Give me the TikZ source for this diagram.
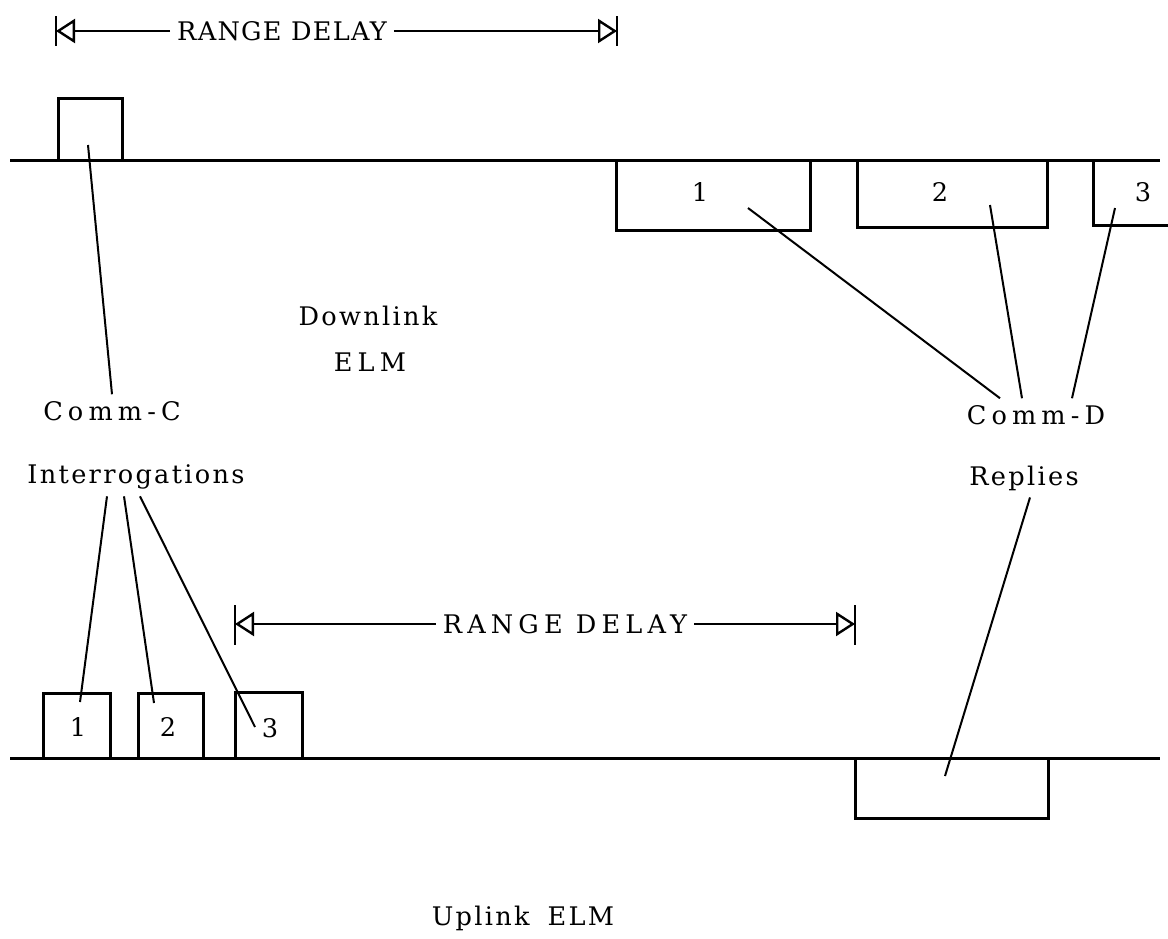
\documentclass[tikz,border=0pt]{standalone}
\usepackage{fontspec}
\usetikzlibrary{arrows.meta}
\newfontfamily\dvtight{DejaVu Serif}[LetterSpace=5]
\newfontfamily\dvsp{DejaVu Serif}[LetterSpace=9]
\newfontfamily\dvwide{DejaVu Serif}[LetterSpace=20]
\tikzset{
  dim/.style={-{Triangle[open,length=9.5pt,width=12pt]},line width=1.2pt},
  bar/.style={line width=1.4pt},
  pulse/.style={line width=1.5pt},
  lead/.style={line width=1pt},
  num/.style={font={\dvtight\fontsize{12.8}{15}\selectfont}},
  lbl/.style={font={\dvsp\fontsize{12.8}{15}\selectfont}},
  wide/.style={font={\dvwide\fontsize{12.8}{15}\selectfont}}
}
\begin{document}
\begin{tikzpicture}[x=0.5pt,y=-0.5pt]
\useasboundingbox (0,0) rectangle (1168,938);
\draw[pulse] (10,160) -- (1160,160);
\draw[pulse] (10,758) -- (1160,758);
\draw[pulse] (58,160) -- (58,98) -- (122,98) -- (122,160);
\draw[pulse] (616,160) -- (616,230) -- (810,230) -- (810,160);
\draw[pulse] (857,160) -- (857,227) -- (1047,227) -- (1047,160);
\draw[pulse] (1093,160) -- (1093,225) -- (1168,225);
\draw[pulse] (43,758) -- (43,693) -- (110,693) -- (110,758);
\draw[pulse] (138,758) -- (138,693) -- (203,693) -- (203,758);
\draw[pulse] (235,758) -- (235,692) -- (302,692) -- (302,758);
\draw[pulse] (855,758) -- (855,818) -- (1048,818) -- (1048,758);
\node[num] (n1) at (700,192) {1};
\node[num] (n2) at (940,192) {2};
\node[num] (n3) at (1143,192) {3};
\node[num] (m1) at (78,727) {1};
\node[num] (m2) at (168,727) {2};
\node[num] (m3) at (270,728) {3};
\node[num] (rd1) at (282,31) {RANGE DELAY};
\draw[bar] (56,16) -- (56,46);
\draw[bar] (617,16) -- (617,46);
\coordinate (bl1) at (56,31); \coordinate (br1) at (617,31);
\draw[dim] (rd1.west) -- (bl1);
\draw[dim] (rd1.east) -- (br1);
\node[wide] (rd2) at (565,624) {RANGE DELAY};
\draw[bar] (235,605) -- (235,645);
\draw[bar] (855,605) -- (855,645);
\coordinate (bl2) at (235,624); \coordinate (br2) at (855,624);
\draw[dim] (rd2.west) -- (bl2);
\draw[dim] (rd2.east) -- (br2);
\node[lbl] (down) at (368,316) {Downlink};
\node[wide] (delm) at (370,362) {ELM};
\node[wide] (commc) at (112,411) {Comm-C};
\node[lbl] (inter) at (136,477) {Interrogations};
\node[wide] (commd) at (1036,415) {Comm-D};
\node[lbl] (repl) at (1024,478) {Replies};
\node[lbl] (up) at (523,918) {Uplink\hspace{9pt}ELM};
\coordinate (t0) at (88,145);
\coordinate (d1) at (748,208); \coordinate (d2) at (990,205); \coordinate (d3) at (1115,208);
\coordinate (u1) at (80,702); \coordinate (u2) at (154,703); \coordinate (u3) at (255,727);
\coordinate (ur) at (945,776);
\draw[lead] (commc.north) -- (t0);
\draw[lead] ([xshift=-18pt]commd.north) -- (d1);
\draw[lead] ([xshift=-7pt]commd.north) -- (d2);
\draw[lead] ([xshift=18pt]commd.north) -- (d3);
\draw[lead] ([xshift=-14.5pt]inter.south) -- (u1);
\draw[lead] ([xshift=-6pt]inter.south) -- (u2);
\draw[lead] ([xshift=2pt]inter.south) -- (u3);
\draw[lead] ([xshift=3pt]repl.south) -- (ur);
\end{tikzpicture}
\end{document}
